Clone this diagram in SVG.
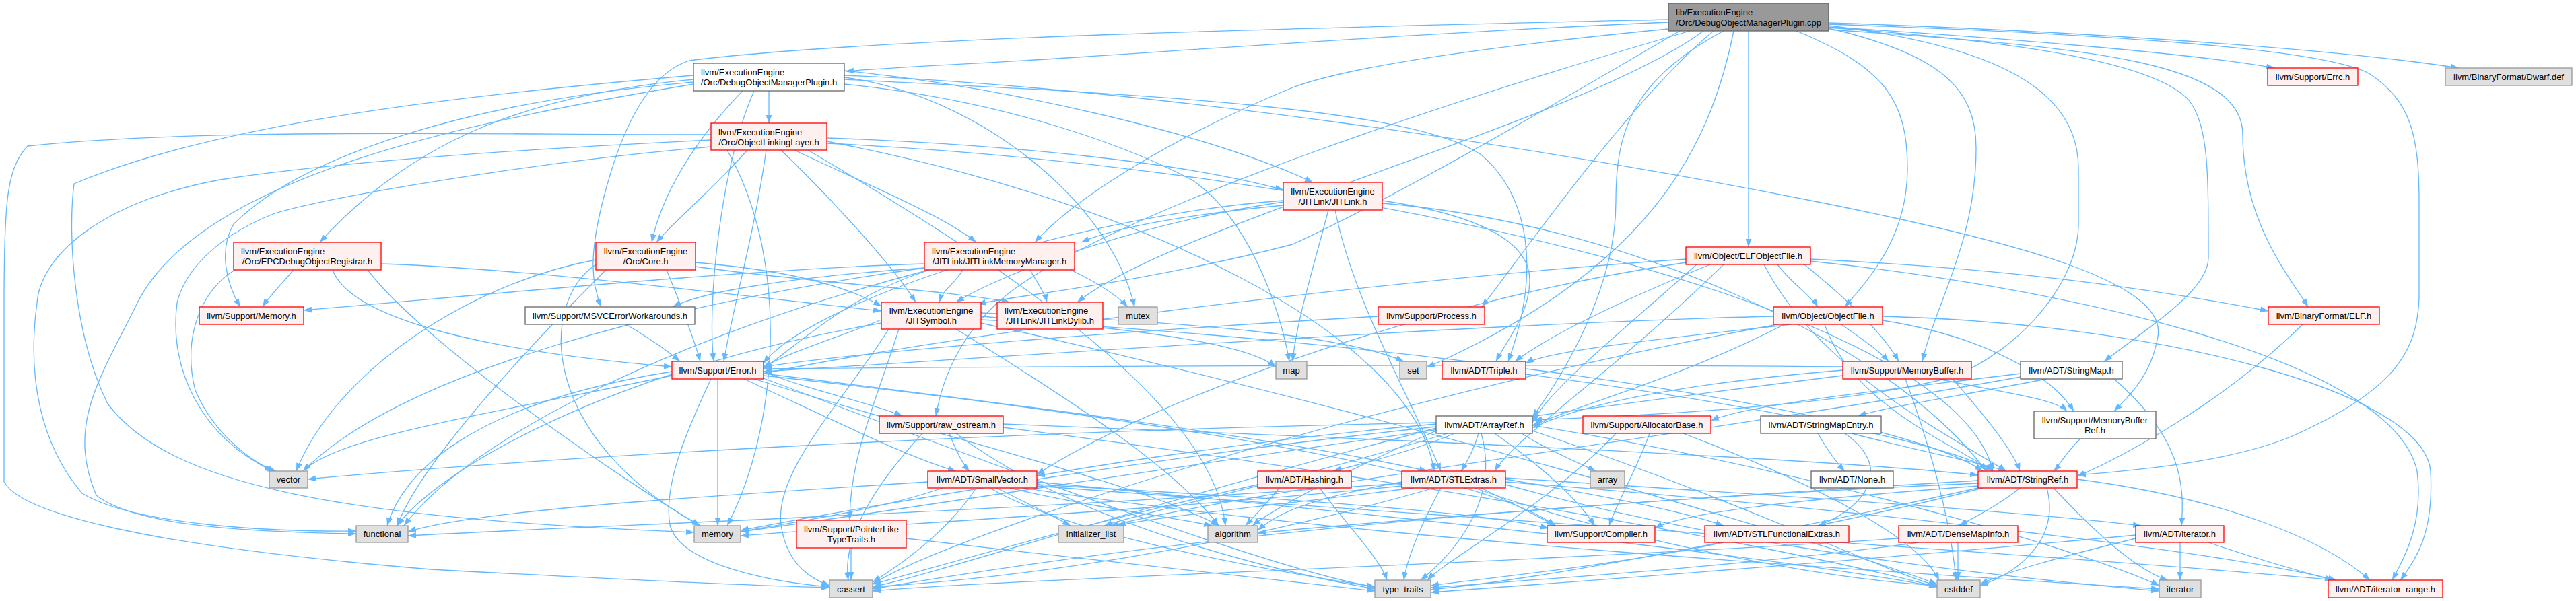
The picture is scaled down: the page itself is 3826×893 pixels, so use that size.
<svg xmlns="http://www.w3.org/2000/svg" width="3826" height="893" viewBox="0 0 3826 893">
<style>
text{font-family:"Liberation Sans",Arial,sans-serif;font-size:13px;fill:#000}
.m{text-anchor:middle}
.r rect{fill:#fff0f0;stroke:#ff0000;stroke-width:1.3}
.w rect{fill:#fff;stroke:#666;stroke-width:1.3}
.g rect{fill:#e0e0e0;stroke:#999;stroke-width:1.3}
.k rect{fill:#999;stroke:#666;stroke-width:1.3}
#edges path{fill:none;stroke:#63b8ff;stroke-width:1.3;marker-end:url(#a)}
</style>
<defs><marker id="a" markerWidth="12" markerHeight="9" refX="12" refY="4.5" orient="auto" markerUnits="userSpaceOnUse"><path d="M0,0 L12,4.5 L0,9 z" fill="#63b8ff"/></marker></defs>
<rect width="3826" height="893" fill="#fff"/>
<g id="edges">
<path d="M2478,33 C2200,45 1900,65 1600,85 C1450,95 1320,100 1256,106"/>
<path d="M2716,40 C2950,55 3250,78 3378,101"/>
<path d="M2716,34 C3050,45 3450,70 3652,101"/>
<path d="M2597,46 L2597,367"/>
<path d="M2716,44 C3100,70 3331,90 3331,200 C3331,330 3400,410 3428,456"/>
<path d="M2668,46 C2800,100 2833,150 2833,250 C2833,350 2780,410 2740,456"/>
<path d="M2716,42 C2880,80 2935,130 2935,220 C2935,360 2875,450 2855,537"/>
<path d="M2716,38 C2980,70 3087,140 3087,250 L3087,333 C3087,420 3000,520 2900,560 C2750,600 2500,615 2278,624"/>
<path d="M2716,41 C2980,60 3200,90 3252,150 C3280,190 3280,250 3280,383 C3280,430 3200,480 3125,537"/>
<path d="M2716,36 C3100,50 3450,70 3520,110 C3580,150 3593,200 3593,300 L3593,443 C3590,520 3560,580 3400,650 C3300,690 3150,700 3086,706"/>
<path d="M2478,43 C2200,70 2000,100 1920,130 C1750,200 1600,290 1537,360"/>
<path d="M2495,46 C2350,130 2100,280 1920,363 C1700,420 1500,440 1452,452"/>
<path d="M2530,46 C2350,180 1750,330 1600,449"/>
<path d="M2478,29 C2000,40 1300,55 1024,90 C960,110 920,200 895,300 C875,380 878,420 893,456"/>
<path d="M2545,46 C2420,150 2260,380 2201,456"/>
<path d="M2510,46 C2150,150 1700,300 1520,420 C1430,480 1400,560 1390,618"/>
<path d="M2575,46 C2540,220 2450,400 2119,546"/>
<path d="M2560,46 C2420,120 2400,200 2400,300 C2400,430 2320,560 2276,620"/>
<path d="M1142,135 L1142,183"/>
<path d="M1103,135 C1040,200 985,280 968,360"/>
<path d="M1030,118 C800,140 620,200 475,360"/>
<path d="M1030,122 C700,150 450,230 347,333 C325,370 335,420 357,456"/>
<path d="M1030,112 C700,140 330,180 110,273 C100,350 110,500 160,600 C250,720 500,770 1031,791"/>
<path d="M1030,125 C700,180 300,260 204,450 C150,560 98,630 143,736 C200,780 350,790 529,793"/>
<path d="M1254,125 C1500,150 1680,220 1770,267 C1850,320 1900,450 1915,537"/>
<path d="M1254,115 C1450,140 1650,300 1685,456"/>
<path d="M1254,105 C1500,130 1800,200 1950,271"/>
<path d="M1120,135 C1070,250 1050,450 1060,537"/>
<path d="M1254,118 C1700,140 2100,160 2200,230 C2270,290 2290,400 2240,537"/>
<path d="M1254,112 C1700,130 2300,220 2700,300 C3000,360 3220,420 3205,500 C3195,560 3160,590 3140,611"/>
<path d="M1110,223 C1060,280 1000,330 975,360"/>
<path d="M1228,205 C1500,215 1750,240 1906,282"/>
<path d="M1180,223 C1300,280 1400,320 1450,360"/>
<path d="M1160,223 C1240,300 1330,400 1360,449"/>
<path d="M1138,223 C1120,350 1090,450 1075,537"/>
<path d="M1056,208 C800,220 500,240 327,267 C150,300 60,380 55,450 C40,560 60,660 122,733 C200,780 400,790 529,789"/>
<path d="M1056,218 C800,240 500,290 408,317 C300,360 270,420 263,450 C250,550 300,650 405,700"/>
<path d="M1228,210 C1700,300 2100,500 2130,700"/>
<path d="M1228,213 C2000,250 2900,450 2960,700"/>
<path d="M1200,223 C1500,400 1800,600 1820,781"/>
<path d="M1056,200 C700,200 300,190 41,217 C10,250 6,300 6,450 L6,716 C30,760 200,810 640,846 C900,860 1100,870 1232,873"/>
<path d="M1080,223 C1180,400 1150,650 1080,781"/>
<path d="M436,401 C420,420 400,440 390,456"/>
<path d="M349,401 C300,430 270,500 290,580 C320,650 380,690 410,700"/>
<path d="M494,401 C520,470 700,520 998,545"/>
<path d="M546,401 C620,500 900,700 1040,781"/>
<path d="M566,392 C800,400 1100,440 1309,462"/>
<path d="M990,401 C1010,450 1030,500 1040,537"/>
<path d="M1033,390 C1150,400 1250,420 1309,455"/>
<path d="M1033,396 C1200,420 1400,430 1500,449"/>
<path d="M885,386 C700,420 500,550 440,700"/>
<path d="M885,393 C800,450 800,650 1040,781"/>
<path d="M900,401 C750,550 620,700 590,781"/>
<path d="M1373,392 C1100,400 700,440 451,461"/>
<path d="M1373,398 C1200,410 1050,430 999,456"/>
<path d="M1430,401 C1420,420 1400,430 1395,449"/>
<path d="M1530,401 C1540,420 1550,430 1555,449"/>
<path d="M1380,401 C1260,440 1200,500 1134,548"/>
<path d="M1380,401 C1000,500 700,650 600,781"/>
<path d="M1590,401 C1630,420 1660,440 1675,456"/>
<path d="M1373,398 C1000,450 600,550 450,700"/>
<path d="M1906,305 C1750,320 1650,340 1606,360"/>
<path d="M1906,300 C1700,330 1500,400 1420,449"/>
<path d="M1906,298 C1600,320 1200,450 1134,540"/>
<path d="M2053,298 C2200,320 2275,360 2272,420 C2270,470 2235,510 2222,537"/>
<path d="M1983,312 C2010,450 2100,600 2140,700"/>
<path d="M1973,312 C1950,400 1925,480 1920,537"/>
<path d="M2053,302 C2400,330 2800,500 2950,700"/>
<path d="M2640,393 C2660,420 2690,440 2700,456"/>
<path d="M2689,385 C3000,400 3200,430 3369,462"/>
<path d="M2504,385 C2000,420 1400,500 1134,555"/>
<path d="M2680,393 C2750,450 2800,500 2820,537"/>
<path d="M2540,393 C2400,450 2300,500 2250,537"/>
<path d="M2520,393 C2400,500 2300,580 2276,628"/>
<path d="M2620,393 C2700,550 2900,650 2980,700"/>
<path d="M2504,390 C2100,450 1700,600 1540,705"/>
<path d="M2560,393 C2400,550 2250,650 2220,700"/>
<path d="M2689,388 C3000,420 3550,520 3590,700 C3600,780 3570,830 3553,862"/>
<path d="M2735,482 C2760,500 2790,520 2805,537"/>
<path d="M2634,470 C2200,480 1500,530 1134,552"/>
<path d="M2710,482 C2750,600 2900,660 2960,700"/>
<path d="M2660,482 C2500,500 2300,520 2266,540"/>
<path d="M2650,482 C2500,560 2350,600 2276,632"/>
<path d="M2796,470 C3200,480 3600,580 3610,700 C3615,790 3590,830 3565,862"/>
<path d="M2640,482 C2000,600 1400,800 1296,868"/>
<path d="M2796,476 C2950,500 3050,560 3080,611"/>
<path d="M3420,482 C3300,600 3150,680 3085,708"/>
<path d="M2047,470 C1700,490 1300,520 1134,545"/>
<path d="M930,482 C960,500 990,520 1010,537"/>
<path d="M1309,475 C1250,500 1180,520 1134,545"/>
<path d="M1457,475 C2000,500 2800,600 2945,700"/>
<path d="M1420,489 C1600,600 1750,700 1810,781"/>
<path d="M1320,489 C1250,600 1150,700 1160,780 C1170,850 1220,865 1232,870"/>
<path d="M1309,480 C900,550 650,700 590,781"/>
<path d="M1457,470 C1700,490 1850,510 1895,545"/>
<path d="M1457,465 C1800,480 2000,500 2085,537"/>
<path d="M1457,480 C2000,600 2700,800 2877,868"/>
<path d="M1335,489 C1300,600 1262,680 1262,773"/>
<path d="M1066,563 L1066,781"/>
<path d="M1056,563 C1020,640 985,720 995,780 C1010,840 1150,865 1232,872"/>
<path d="M1105,563 C1250,630 1350,680 1420,700"/>
<path d="M1134,555 C1500,600 1900,650 2120,700"/>
<path d="M1134,558 C1700,620 2200,700 2310,781"/>
<path d="M1134,552 C1200,580 1300,600 1340,618"/>
<path d="M998,552 C700,600 600,700 575,781"/>
<path d="M998,558 C700,620 500,650 450,700"/>
<path d="M1134,562 C1500,700 1900,850 2042,872"/>
<path d="M1120,563 C1400,650 1700,720 1810,781"/>
<path d="M2266,556 C2600,600 2900,660 2960,700"/>
<path d="M2880,563 C2950,580 3050,590 3070,611"/>
<path d="M2900,563 C2950,620 2990,670 3000,700"/>
<path d="M2737,550 C2500,570 2350,600 2276,636"/>
<path d="M2737,545 C2200,540 1500,545 1134,548"/>
<path d="M2737,558 C2000,650 1400,750 1100,790"/>
<path d="M2830,563 C2880,700 2900,800 2905,862"/>
<path d="M3040,563 C2900,590 2800,605 2760,618"/>
<path d="M3001,555 C2800,580 2600,600 2541,625"/>
<path d="M3140,563 C3240,650 3245,720 3240,781"/>
<path d="M3001,560 C2500,650 1900,720 1650,781"/>
<path d="M1410,644 C1420,670 1430,690 1440,700"/>
<path d="M1490,630 C2000,650 2700,680 2938,706"/>
<path d="M1370,644 C1300,720 1250,800 1260,862"/>
<path d="M1490,635 C2000,700 2600,800 2877,872"/>
<path d="M1420,644 C1600,780 1900,850 2042,875"/>
<path d="M2196,644 C2190,665 2180,685 2170,700"/>
<path d="M2133,630 C1900,650 1700,680 1540,707"/>
<path d="M2160,644 C2100,670 2020,690 1980,700"/>
<path d="M2260,644 C2300,670 2350,690 2370,700"/>
<path d="M2220,644 C2300,700 2350,750 2368,781"/>
<path d="M2133,640 C2000,700 1900,750 1860,781"/>
<path d="M2133,636 C1700,750 1400,850 1296,872"/>
<path d="M2276,640 C2600,750 2800,850 2877,870"/>
<path d="M2150,644 C1900,720 1700,760 1640,781"/>
<path d="M2276,632 C2700,700 3100,820 3207,870"/>
<path d="M2133,634 C1700,680 1300,750 1100,788"/>
<path d="M2200,644 C2230,750 2150,830 2110,862"/>
<path d="M2133,628 C1500,640 800,680 457,712"/>
<path d="M2450,644 C2430,700 2400,750 2390,781"/>
<path d="M2400,644 C2300,750 2150,830 2120,862"/>
<path d="M2500,644 C2700,720 2850,800 2880,862"/>
<path d="M2700,644 C2715,670 2730,690 2740,700"/>
<path d="M2750,644 C2850,670 2950,690 2980,700"/>
<path d="M2740,644 C2820,700 2760,760 2700,781"/>
<path d="M3090,652 C3070,670 3060,690 3050,700"/>
<path d="M1540,720 C1900,740 2200,760 2300,785"/>
<path d="M1500,725 C1600,750 1750,770 1800,781"/>
<path d="M1480,725 C1530,750 1570,770 1590,781"/>
<path d="M1450,725 C1400,800 1320,850 1296,865"/>
<path d="M1540,716 C2000,760 2600,820 2877,872"/>
<path d="M1378,716 C1000,740 700,760 606,790"/>
<path d="M1520,725 C2000,800 2800,850 3207,875"/>
<path d="M1400,725 C1300,760 1150,780 1100,790"/>
<path d="M1470,725 C1600,800 1900,850 2042,872"/>
<path d="M1540,722 C2300,780 3000,820 3470,862"/>
<path d="M1900,725 C1880,750 1860,770 1850,781"/>
<path d="M1868,720 C1600,780 1400,840 1296,868"/>
<path d="M1960,725 C2000,780 2050,830 2060,862"/>
<path d="M2236,712 C2400,740 2500,760 2560,781"/>
<path d="M2236,710 C2700,740 3000,760 3180,781"/>
<path d="M2236,716 C2800,760 3300,820 3470,862"/>
<path d="M2200,725 C2250,750 2290,770 2310,781"/>
<path d="M2082,716 C1950,740 1900,760 1868,788"/>
<path d="M2130,725 C1800,820 1500,860 1296,872"/>
<path d="M2190,725 C2400,800 2700,860 2877,870"/>
<path d="M2082,718 C1500,760 900,780 606,796"/>
<path d="M2100,725 C1900,750 1700,770 1660,781"/>
<path d="M2236,720 C2600,820 3000,860 3207,878"/>
<path d="M2082,722 C1700,760 1300,780 1100,796"/>
<path d="M2140,725 C2110,780 2090,830 2085,862"/>
<path d="M3000,725 C2970,750 2930,770 2910,781"/>
<path d="M2945,725 C2850,750 2750,770 2700,781"/>
<path d="M3085,712 C3300,740 3450,800 3520,862"/>
<path d="M2938,722 C2700,740 2500,760 2458,785"/>
<path d="M2938,718 C2000,760 1500,840 1296,875"/>
<path d="M3040,725 C3060,800 3000,850 2941,870"/>
<path d="M3050,725 C3120,800 3180,850 3220,862"/>
<path d="M2938,725 C2600,800 2300,860 2125,876"/>
<path d="M2938,714 C2500,740 2100,770 1868,792"/>
<path d="M2560,806 C2400,840 2200,860 2125,870"/>
<path d="M2908,806 L2908,862"/>
<path d="M2850,806 C2600,840 2300,860 2125,873"/>
<path d="M2820,800 C2200,840 1500,860 1296,878"/>
<path d="M3238,806 L3238,862"/>
<path d="M3280,806 C3350,830 3420,850 3465,862"/>
<path d="M3172,800 C3050,830 2980,850 2941,868"/>
<path d="M3172,795 C2800,830 2400,860 2125,880"/>
<path d="M1264,814 L1264,862"/>
<path d="M1346,800 C1600,830 1900,860 2042,878"/>
</g>
<g id="root" class="k"><rect x="2478" y="5" width="238" height="41"/><text x="2489" y="23">lib/ExecutionEngine</text><text class="m" x="2597" y="38">/Orc/DebugObjectManagerPlugin.cpp</text></g>
<g id="domp" class="w"><rect x="1030" y="94" width="224" height="41"/><text x="1041" y="112">llvm/ExecutionEngine</text><text class="m" x="1142" y="127">/Orc/DebugObjectManagerPlugin.h</text></g>
<g id="errc" class="r"><rect x="3368" y="101" width="134" height="26"/><text class="m" x="3435" y="118.5">llvm/Support/Errc.h</text></g>
<g id="dwarf" class="g"><rect x="3632" y="101" width="188" height="26"/><text class="m" x="3726" y="118.5">llvm/BinaryFormat/Dwarf.def</text></g>
<g id="oll" class="r"><rect x="1056" y="183" width="172" height="40"/><text x="1067" y="201">llvm/ExecutionEngine</text><text class="m" x="1142" y="216">/Orc/ObjectLinkingLayer.h</text></g>
<g id="jitlink" class="r"><rect x="1906" y="271" width="147" height="41"/><text class="m" x="1979.5" y="289">llvm/ExecutionEngine</text><text class="m" x="1979.5" y="304">/JITLink/JITLink.h</text></g>
<g id="epc" class="r"><rect x="347" y="360" width="219" height="41"/><text x="358" y="378">llvm/ExecutionEngine</text><text class="m" x="456.5" y="393">/Orc/EPCDebugObjectRegistrar.h</text></g>
<g id="core" class="r"><rect x="885" y="360" width="148" height="41"/><text class="m" x="959" y="378">llvm/ExecutionEngine</text><text class="m" x="959" y="393">/Orc/Core.h</text></g>
<g id="jlmm" class="r"><rect x="1373" y="360" width="223" height="41"/><text x="1384" y="378">llvm/ExecutionEngine</text><text class="m" x="1484.5" y="393">/JITLink/JITLinkMemoryManager.h</text></g>
<g id="elfof" class="r"><rect x="2504" y="367" width="185" height="26"/><text class="m" x="2596.5" y="384.5">llvm/Object/ELFObjectFile.h</text></g>
<g id="memoryh" class="r"><rect x="296" y="456" width="155" height="26"/><text class="m" x="373.5" y="473.5">llvm/Support/Memory.h</text></g>
<g id="msvc" class="w"><rect x="780" y="456" width="252" height="26"/><text class="m" x="906" y="473.5">llvm/Support/MSVCErrorWorkarounds.h</text></g>
<g id="jitsymbol" class="r"><rect x="1309" y="449" width="148" height="40"/><text class="m" x="1383" y="466">llvm/ExecutionEngine</text><text class="m" x="1383" y="481">/JITSymbol.h</text></g>
<g id="jitdylib" class="r"><rect x="1481" y="449" width="157" height="40"/><text x="1492" y="466">llvm/ExecutionEngine</text><text class="m" x="1559.5" y="481">/JITLink/JITLinkDylib.h</text></g>
<g id="mutex" class="g"><rect x="1661" y="456" width="58" height="26"/><text class="m" x="1690" y="473.5">mutex</text></g>
<g id="process" class="r"><rect x="2047" y="456" width="158" height="26"/><text class="m" x="2126" y="473.5">llvm/Support/Process.h</text></g>
<g id="objectfile" class="r"><rect x="2634" y="456" width="162" height="26"/><text class="m" x="2715" y="473.5">llvm/Object/ObjectFile.h</text></g>
<g id="elf" class="r"><rect x="3369" y="456" width="165" height="26"/><text class="m" x="3451.5" y="473.5">llvm/BinaryFormat/ELF.h</text></g>
<g id="error" class="r"><rect x="998" y="537" width="136" height="26"/><text class="m" x="1066" y="554.5">llvm/Support/Error.h</text></g>
<g id="map" class="g"><rect x="1895" y="537" width="46" height="26"/><text class="m" x="1918" y="554.5">map</text></g>
<g id="set" class="g"><rect x="2079" y="537" width="40" height="26"/><text class="m" x="2099" y="554.5">set</text></g>
<g id="triple" class="r"><rect x="2142" y="537" width="124" height="26"/><text class="m" x="2204" y="554.5">llvm/ADT/Triple.h</text></g>
<g id="memorybuffer" class="r"><rect x="2737" y="537" width="191" height="26"/><text class="m" x="2832.5" y="554.5">llvm/Support/MemoryBuffer.h</text></g>
<g id="stringmap" class="w"><rect x="3001" y="537" width="151" height="26"/><text class="m" x="3076.5" y="554.5">llvm/ADT/StringMap.h</text></g>
<g id="rawostream" class="r"><rect x="1306" y="618" width="184" height="26"/><text class="m" x="1398" y="635.5">llvm/Support/raw_ostream.h</text></g>
<g id="arrayref" class="w"><rect x="2133" y="618" width="143" height="26"/><text class="m" x="2204.5" y="635.5">llvm/ADT/ArrayRef.h</text></g>
<g id="allocatorbase" class="r"><rect x="2351" y="618" width="190" height="26"/><text class="m" x="2446" y="635.5">llvm/Support/AllocatorBase.h</text></g>
<g id="stringmapentry" class="w"><rect x="2615" y="618" width="179" height="26"/><text class="m" x="2704.5" y="635.5">llvm/ADT/StringMapEntry.h</text></g>
<g id="memorybufferref" class="w"><rect x="3021" y="611" width="181" height="41"/><text class="m" x="3111.5" y="629">llvm/Support/MemoryBuffer</text><text class="m" x="3111.5" y="644">Ref.h</text></g>
<g id="vector" class="g"><rect x="400" y="700" width="57" height="25"/><text class="m" x="428.5" y="717">vector</text></g>
<g id="smallvector" class="r"><rect x="1378" y="700" width="162" height="25"/><text class="m" x="1459" y="717">llvm/ADT/SmallVector.h</text></g>
<g id="hashing" class="r"><rect x="1868" y="700" width="139" height="25"/><text class="m" x="1937.5" y="717">llvm/ADT/Hashing.h</text></g>
<g id="stlextras" class="r"><rect x="2082" y="700" width="154" height="25"/><text class="m" x="2159" y="717">llvm/ADT/STLExtras.h</text></g>
<g id="array" class="g"><rect x="2362" y="700" width="51" height="25"/><text class="m" x="2387.5" y="717">array</text></g>
<g id="none" class="w"><rect x="2690" y="700" width="122" height="25"/><text class="m" x="2751" y="717">llvm/ADT/None.h</text></g>
<g id="stringref" class="r"><rect x="2938" y="700" width="147" height="25"/><text class="m" x="3011.5" y="717">llvm/ADT/StringRef.h</text></g>
<g id="functional" class="g"><rect x="529" y="781" width="77" height="25"/><text class="m" x="567.5" y="798">functional</text></g>
<g id="memory" class="g"><rect x="1031" y="781" width="69" height="25"/><text class="m" x="1065.5" y="798">memory</text></g>
<g id="pltt" class="r"><rect x="1183" y="773" width="163" height="41"/><text class="m" x="1264.5" y="791">llvm/Support/PointerLike</text><text class="m" x="1264.5" y="806">TypeTraits.h</text></g>
<g id="initlist" class="g"><rect x="1572" y="781" width="97" height="25"/><text class="m" x="1620.5" y="798">initializer_list</text></g>
<g id="algorithm" class="g"><rect x="1794" y="781" width="74" height="25"/><text class="m" x="1831" y="798">algorithm</text></g>
<g id="compiler" class="r"><rect x="2298" y="781" width="160" height="25"/><text class="m" x="2378" y="798">llvm/Support/Compiler.h</text></g>
<g id="stlfe" class="r"><rect x="2532" y="781" width="214" height="25"/><text class="m" x="2639" y="798">llvm/ADT/STLFunctionalExtras.h</text></g>
<g id="densemapinfo" class="r"><rect x="2820" y="781" width="177" height="25"/><text class="m" x="2908.5" y="798">llvm/ADT/DenseMapInfo.h</text></g>
<g id="iteratorh" class="r"><rect x="3172" y="781" width="131" height="25"/><text class="m" x="3237.5" y="798">llvm/ADT/iterator.h</text></g>
<g id="cassert" class="g"><rect x="1232" y="862" width="64" height="26"/><text class="m" x="1264" y="879.5">cassert</text></g>
<g id="typetraits" class="g"><rect x="2042" y="862" width="83" height="26"/><text class="m" x="2083.5" y="879.5">type_traits</text></g>
<g id="cstddef" class="g"><rect x="2877" y="862" width="64" height="26"/><text class="m" x="2909" y="879.5">cstddef</text></g>
<g id="iterator" class="g"><rect x="3207" y="862" width="62" height="26"/><text class="m" x="3238" y="879.5">iterator</text></g>
<g id="iteratorrange" class="r"><rect x="3458" y="862" width="170" height="26"/><text class="m" x="3543" y="879.5">llvm/ADT/iterator_range.h</text></g>
</svg>
